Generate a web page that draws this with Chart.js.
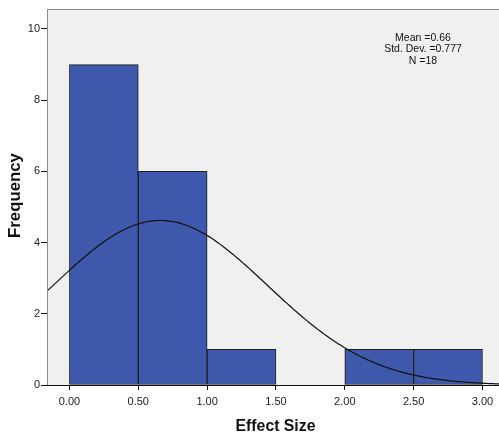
<!DOCTYPE html>
<html><head><meta charset="utf-8">
<script src="https://cdn.jsdelivr.net/npm/chart.js@4"></script>
<style>html,body{margin:0;padding:0;background:#fff;}canvas{display:block;}</style>
</head><body>
<canvas id="c" width="499" height="435"></canvas>
<script>
const binStarts = [0.0, 0.5, 1.0, 1.5, 2.0, 2.5];
const binWidth = 0.5;
const frequencies = [9, 6, 1, 0, 1, 1];
const xTicks = [0, 0.5, 1, 1.5, 2, 2.5, 3];
const yTicks = [0, 2, 4, 6, 8, 10];
const statMean = 0.66;
const statSD = 0.777;
const statN = 18;
const statLines = ['Mean =0.66', 'Std. Dev. =0.777', 'N =18'];

const XMIN = -0.163, XMAX = 3.12, YMAX = 10.56;
const FONT = '"Liberation Sans", Arial, sans-serif';

const barData = binStarts.map((s, i) => ({x: s + binWidth / 2, y: frequencies[i]})).filter(p => p.y > 0);
const curve = [];
const steps = 240;
for (let i = 0; i <= steps; i++) {
  const x = XMIN + (XMAX - XMIN) * i / steps;
  const z = (x - statMean) / statSD;
  curve.push({x, y: statN * binWidth / (statSD * Math.sqrt(2 * Math.PI)) * Math.exp(-0.5 * z * z)});
}

const deco = {
  id: 'deco',
  beforeDatasetsDraw(chart) {
    const {ctx, chartArea: a} = chart;
    ctx.save();
    ctx.fillStyle = '#f0f0f0';
    ctx.fillRect(a.left, a.top, a.right - a.left, a.bottom - a.top);
    ctx.restore();
  },
  afterDraw(chart) {
    const {ctx, chartArea: a} = chart;
    ctx.save();
    ctx.strokeStyle = '#8a8a8a';
    ctx.lineWidth = 1;
    ctx.beginPath();
    ctx.moveTo(a.left, a.top + 0.5); ctx.lineTo(a.right, a.top + 0.5);
    ctx.moveTo(a.left + 0.5, a.top); ctx.lineTo(a.left + 0.5, a.bottom);
    ctx.stroke();
    ctx.strokeStyle = '#111';
    ctx.beginPath();
    ctx.moveTo(a.left, a.bottom + 0.5); ctx.lineTo(a.right, a.bottom + 0.5);
    ctx.stroke();
    ctx.fillStyle = '#111';
    ctx.font = '10.5px ' + FONT;
    ctx.textAlign = 'center';
    ctx.textBaseline = 'middle';
    statLines.forEach((t, i) => ctx.fillText(t, 423, 38 + i * 11.5));
    ctx.font = 'bold 15.8px ' + FONT;
    ctx.fillText('Effect Size', 275.5, 427);
    ctx.font = 'bold 16.8px ' + FONT;
    ctx.translate(15.5, 195.5);
    ctx.rotate(-Math.PI / 2);
    ctx.fillText('Frequency', 0, 0);
    ctx.restore();
  }
};

new Chart(document.getElementById('c'), {
  data: {
    datasets: [
      {type: 'line', data: curve, borderColor: '#111', borderWidth: 1.2, pointRadius: 0, fill: false, order: 0},
      {type: 'bar', data: barData, backgroundColor: '#3e58ab', borderColor: '#1e1e1e', borderWidth: 1,
       barPercentage: 1, categoryPercentage: 1, borderSkipped: false, order: 1}
    ]
  },
  options: {
    responsive: false, animation: false,
    layout: {padding: {top: 9, right: 0, left: 0, bottom: 0}},
    plugins: {legend: {display: false}, tooltip: {enabled: false}},
    scales: {
      x: {
        type: 'linear', min: XMIN, max: XMAX, offset: false,
        afterBuildTicks(s) { s.ticks = xTicks.map(v => ({value: v})); },
        afterFit(s) { s.height = 50; },
        grid: {drawOnChartArea: false, offset: false, tickLength: 5, color: '#111', tickColor: '#111'},
        border: {display: false},
        ticks: {color: '#222', font: {family: FONT, size: 11}, padding: 5, maxRotation: 0,
                callback: v => v.toFixed(2)}
      },
      y: {
        type: 'linear', min: 0, max: YMAX,
        afterBuildTicks(s) { s.ticks = yTicks.map(v => ({value: v})); },
        afterFit(s) { s.width = 47; },
        grid: {drawOnChartArea: false, tickLength: 6, color: '#111', tickColor: '#111'},
        border: {display: false},
        ticks: {color: '#222', font: {family: FONT, size: 11}, padding: 1, callback: v => String(v)}
      }
    }
  },
  plugins: [deco]
});
</script>
</body></html>
